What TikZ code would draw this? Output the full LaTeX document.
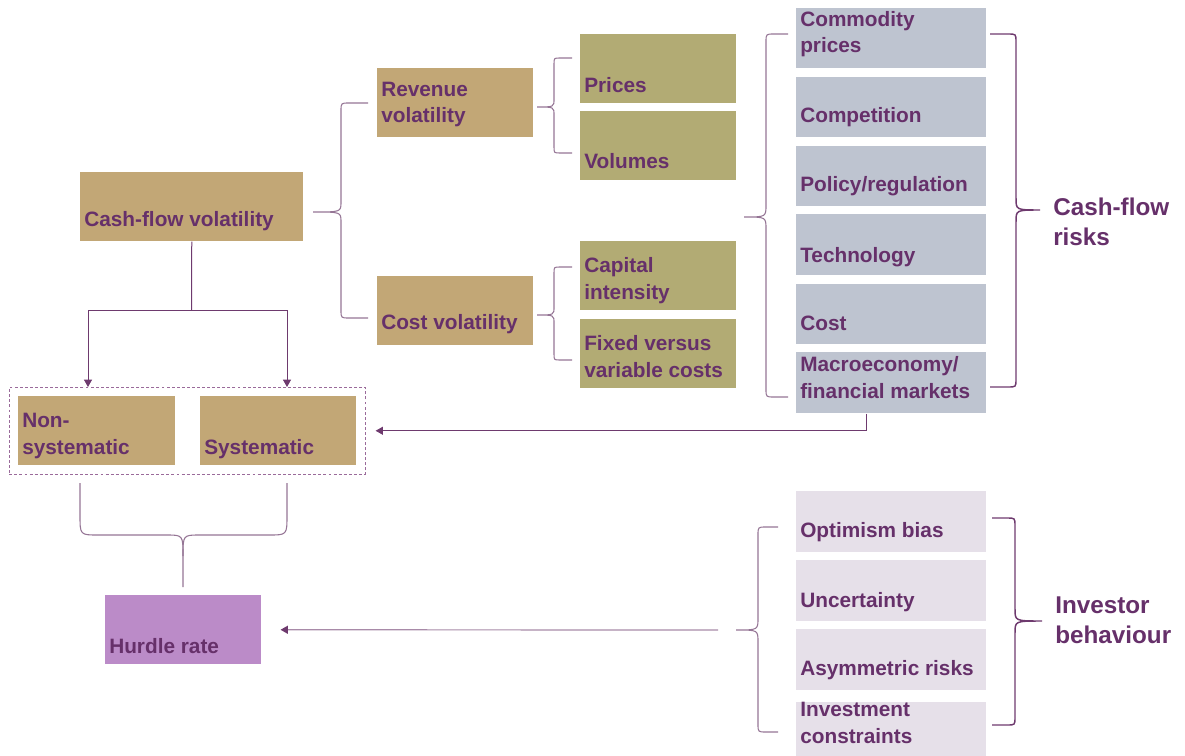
\documentclass[tikz,border=0pt]{standalone}
\usepackage{fontspec}
\setmainfont{Liberation Sans}
\usetikzlibrary{arrows.meta,fit,calc}
\definecolor{tanb}{HTML}{C2A776}
\definecolor{oliveb}{HTML}{B2AB74}
\definecolor{greyb}{HTML}{BEC4D0}
\definecolor{lavb}{HTML}{E6E0E9}
\definecolor{pinkb}{HTML}{BB8BC8}
\definecolor{txt}{HTML}{66306A}
\definecolor{brc}{HTML}{6E3A6E}
\definecolor{brlight}{HTML}{957595}
\definecolor{dashc}{HTML}{9A6A9A}
\definecolor{arrlight}{HTML}{A88AA8}
\tikzset{
  box/.style={draw=none, inner sep=0pt, anchor=north west},
  lbl/.style={text=txt, font=\bfseries\fontsize{15.6}{19.9}\selectfont, align=left, inner sep=0pt, anchor=base west},
  biglbl/.style={text=txt, font=\bfseries\fontsize{18.2}{22.4}\selectfont, align=left, inner sep=0pt, anchor=base west},
  brace/.style={draw=brc, line width=1.1pt},
  thinbrace/.style={draw=brlight, line width=0.8pt},
  conn/.style={draw=brc, line width=0.75pt},
  arr/.style={conn, -{Triangle[length=5.5pt,width=6pt]}},
  arrl/.style={draw=arrlight, line width=0.9pt, -{Triangle[length=5.5pt,width=6pt,color=brc]}},
  grpbox/.style={draw=dashc, dashed, dash pattern=on 2.2pt off 1.6pt, line width=0.6pt, inner sep=6.5pt},
}
% box: name, x1, y1, x2, y2, fill, text, last-line baseline
\newcommand{\Bx}[8]{%
  \node[box, fill=#6, minimum width={(#4-#2)*0.75pt}, minimum height={(#5-#3)*0.75pt}] (#1) at (#2,#3) {};
  \node[lbl] (#1t) at ({#2+4},#8) {#7};
}
% horizontal brace: xa, xv, xt, yt, yb, ym, end radius (signed), tip radius, style
\newcommand{\BrH}[9]{%
  \draw[#9] (#1,#4) -- ({#2+#7},#4) .. controls (#2,#4) .. (#2,{#4+abs(#7)})
    -- (#2,{#6-#8}) .. controls (#2,#6) .. (#3,#6)
    .. controls (#2,#6) .. (#2,{#6+#8})
    -- (#2,{#5-abs(#7)}) .. controls (#2,#5) .. ({#2+#7},#5) -- (#1,#5);
}
\begin{document}
\begin{tikzpicture}[x=0.75pt,y=-0.75pt]
\useasboundingbox (0,0) rectangle (1185,756);

% boxes
\Bx{cf}{80}{172}{303}{241}{tanb}{Cash-flow volatility}{226}
\Bx{rev}{377}{68}{533}{137}{tanb}{Revenue\\volatility}{123}
\Bx{cost}{377}{276}{533}{345}{tanb}{Cost volatility}{329}
\Bx{prices}{580}{34}{736}{103}{oliveb}{Prices}{93}
\Bx{volumes}{580}{111}{736}{180}{oliveb}{Volumes}{169}
\Bx{capital}{580}{241}{736}{310}{oliveb}{Capital\\intensity}{299}
\Bx{fixed}{580}{319}{736}{388}{oliveb}{Fixed versus\\variable costs}{377}
\Bx{commod}{796}{8}{986}{68}{greyb}{Commodity\\prices}{53}
\Bx{compet}{796}{77}{986}{137}{greyb}{Competition}{123}
\Bx{policy}{796}{146}{986}{206}{greyb}{Policy/regulation}{192}
\Bx{techn}{796}{214}{986}{275}{greyb}{Technology}{262}
\Bx{costr}{796}{284}{986}{344}{greyb}{Cost}{330}
\Bx{macro}{796}{352}{986}{413}{greyb}{Macroeconomy/\\financial markets}{398}
\Bx{nonsys}{18}{396}{175}{465}{tanb}{Non-\\systematic}{454}
\Bx{sys}{200}{396}{356}{465}{tanb}{Systematic}{454}
\Bx{hurdle}{105}{595}{261}{664}{pinkb}{Hurdle rate}{653}
\Bx{optim}{796}{491}{986}{552}{lavb}{Optimism bias}{537}
\Bx{uncert}{796}{560}{986}{621}{lavb}{Uncertainty}{607}
\Bx{asym}{796}{629}{986}{690}{lavb}{Asymmetric risks}{675}
\Bx{invest}{796}{702}{986}{756}{lavb}{Investment\\constraints}{743}

% side labels
\node[biglbl] (cfrisks) at (1053,245) {Cash-flow\\risks};
\node[biglbl] (invbeh) at (1055,643) {Investor\\behaviour};

% dashed group
\node[grpbox, fit=(nonsys)(sys)] (grp) {};

% braces
\BrH{368}{341}{313}{103}{318}{212}{8}{10}{thinbrace}
\BrH{572}{554}{537}{58}{153}{107}{6}{8}{thinbrace}
\BrH{572}{554}{537}{267}{360}{315}{6}{8}{thinbrace}
\BrH{788}{766}{744}{34}{397}{217}{8}{12}{thinbrace}
\BrH{990}{1016}{1040}{34}{387}{210}{-8}{12}{brace}
\BrH{778}{758}{736}{527}{732}{630}{8}{12}{thinbrace}
\BrH{992}{1015}{1042}{518}{725}{621}{-8}{12}{brace}
% bottom brace (tip down)
\draw[thinbrace] (80,483) -- (80,515) .. controls (80,535) .. (98,535) -- (166,535)
  .. controls (183,535) .. (183,556) -- (183,587);
\draw[thinbrace] (287,483) -- (287,515) .. controls (287,535) .. (269,535) -- (200,535)
  .. controls (183,535) .. (183,556);

% connectors
\coordinate (j) at (191.5,310);
\coordinate (t1) at (88,387);
\coordinate (t2) at (287,387);
\draw[conn] (cf.south) -- (j);
\draw[arr] (j) -| (t1);
\draw[arr] (j) -| (t2);
\draw[arr] ([xshift=-18.75pt]macro.south) |- ([xshift=7.5pt]grp.east);
\coordinate (hb) at (718,630);
\draw[arrl] (hb) -- ([xshift=14.25pt]hurdle.east);
\end{tikzpicture}
\end{document}
